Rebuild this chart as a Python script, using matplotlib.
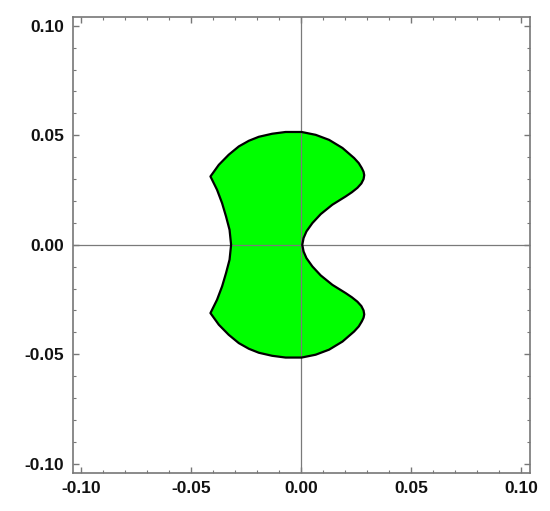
import numpy as np
import matplotlib.pyplot as plt
from matplotlib.ticker import MultipleLocator, FormatStrFormatter

# boundary of the upper half (left crossing -> corner -> top -> inner notch)
upper_x = [-0.0319, -0.0326, -0.0342, -0.0360, -0.0383, -0.0413,
           -0.0375, -0.0330, -0.0284, -0.0238, -0.0193, -0.0132, -0.0071, 0.0002,
           0.0066, 0.0127, 0.0188, 0.0241, 0.0262, 0.0276, 0.0284, 0.0287,
           0.0284, 0.0274, 0.0256, 0.0231, 0.0203, 0.0142, 0.0089, 0.0051,
           0.0024, 0.0011, 0.0005]
upper_y = [0.0000, 0.0068, 0.0129, 0.0190, 0.0251, 0.0312,
           0.0365, 0.0411, 0.0449, 0.0475, 0.0493, 0.0507, 0.0515, 0.0515,
           0.0502, 0.0479, 0.0442, 0.0396, 0.0373, 0.0350, 0.0333, 0.0318,
           0.0300, 0.0280, 0.0260, 0.0240, 0.0221, 0.0183, 0.0140, 0.0099,
           0.0061, 0.0031, 0.0000]

ticks = [-0.10, -0.05, 0.00, 0.05, 0.10]
lim = 0.104

# lower half is the mirror image
xs = np.array(upper_x + upper_x[::-1][1:-1])
ys = np.array(upper_y + [-v for v in upper_y[::-1][1:-1]])

plt.rcParams['font.family'] = ['Liberation Sans', 'DejaVu Sans']
fig = plt.figure(figsize=(5.5, 5.11), dpi=100)
ax = fig.add_axes([0.1322, 0.0753, 0.9630 - 0.1322, 0.9667 - 0.0753])

ax.fill(xs, ys, facecolor='#00ff00', edgecolor='none', zorder=2)
ax.fill(xs, ys, facecolor='none', edgecolor='black', lw=1.6, joinstyle='round', zorder=4)
# axes lines show through the region
ax.axhline(0, color='#7a7a7a', lw=0.9, zorder=3)
ax.axvline(0, color='#7a7a7a', lw=0.9, zorder=3)

ax.set_xlim(-lim, lim)
ax.set_ylim(-lim, lim)
ax.set_xticks(ticks)
ax.set_yticks(ticks)
ax.xaxis.set_minor_locator(MultipleLocator(0.01))
ax.yaxis.set_minor_locator(MultipleLocator(0.01))
ax.xaxis.set_major_formatter(FormatStrFormatter('%.2f'))
ax.yaxis.set_major_formatter(FormatStrFormatter('%.2f'))

for s in ax.spines.values():
    s.set_color('#777777')
    s.set_linewidth(1.2)
ax.tick_params(which='both', direction='in', top=True, right=True, color='#777777')
ax.tick_params(which='major', length=4.5, width=1.0, labelsize=12.5, pad=6, labelcolor='#111111')
ax.tick_params(which='minor', length=2.5, width=0.8)
for lab in ax.get_xticklabels() + ax.get_yticklabels():
    lab.set_fontweight('bold')

fig.savefig('out.png', dpi=100)
